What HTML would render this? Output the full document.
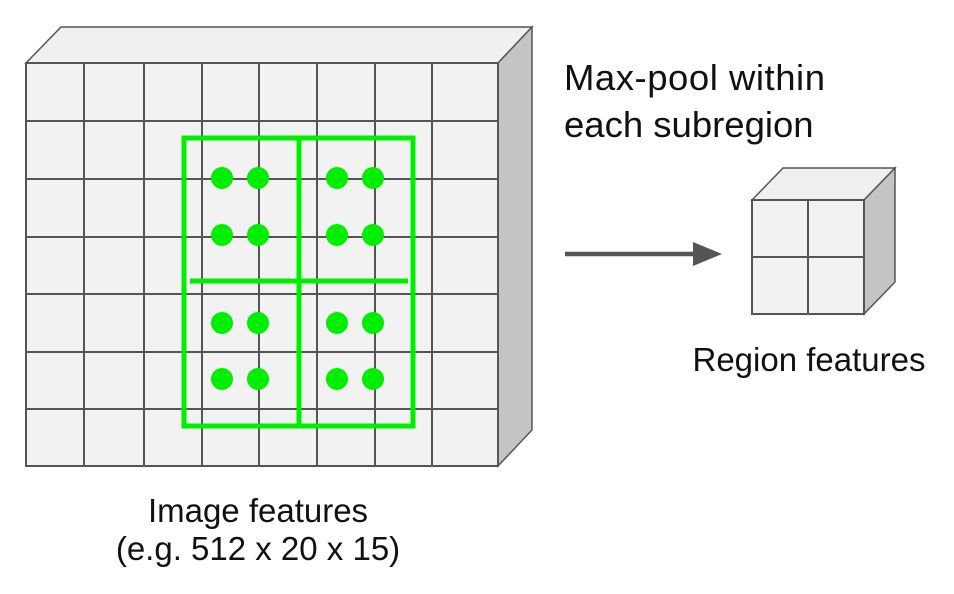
<!DOCTYPE html>
<html><head><style>
body{margin:0;background:#fff;}
svg text{font-family:"Liberation Sans",sans-serif;fill:#111;}
</style></head><body>
<svg width="954" height="589" viewBox="0 0 954 589" xmlns="http://www.w3.org/2000/svg">
<polygon points="26,63 61,27 532,27 498,63" fill="#f0f0f0" stroke="#555" stroke-width="1.5"/>
<polygon points="498,63 532,27 532,430 498,466" fill="#c4c4c4" stroke="#555" stroke-width="1.5"/>
<rect x="26" y="63" width="472" height="403" fill="#f2f2f2" stroke="#555" stroke-width="2"/>
<g stroke="#555" stroke-width="2">
<line x1="84" y1="63" x2="84" y2="466"/><line x1="144" y1="63" x2="144" y2="466"/>
<line x1="202" y1="63" x2="202" y2="466"/><line x1="259" y1="63" x2="259" y2="466"/>
<line x1="317" y1="63" x2="317" y2="466"/><line x1="375" y1="63" x2="375" y2="466"/>
<line x1="432" y1="63" x2="432" y2="466"/>
<line x1="26" y1="121" x2="498" y2="121"/><line x1="26" y1="179" x2="498" y2="179"/>
<line x1="26" y1="237" x2="498" y2="237"/><line x1="26" y1="294" x2="498" y2="294"/>
<line x1="26" y1="352" x2="498" y2="352"/><line x1="26" y1="409" x2="498" y2="409"/>
</g>
<g stroke="#00ee00" stroke-width="5" fill="none">
<rect x="184" y="138" width="229" height="288"/>
<line x1="299" y1="138" x2="299" y2="426"/>
<line x1="190" y1="281" x2="408" y2="281"/>
</g>
<g fill="#00ee00">
<circle cx="222" cy="178" r="11"/><circle cx="258" cy="178" r="11"/><circle cx="337" cy="178" r="11"/><circle cx="373" cy="178" r="11"/>
<circle cx="222" cy="235" r="11"/><circle cx="258" cy="235" r="11"/><circle cx="337" cy="235" r="11"/><circle cx="373" cy="235" r="11"/>
<circle cx="222" cy="323" r="11"/><circle cx="258" cy="323" r="11"/><circle cx="337" cy="323" r="11"/><circle cx="373" cy="323" r="11"/>
<circle cx="222" cy="379" r="11"/><circle cx="258" cy="379" r="11"/><circle cx="337" cy="379" r="11"/><circle cx="373" cy="379" r="11"/>
</g>
<line x1="565" y1="254" x2="697" y2="254" stroke="#555" stroke-width="4.5"/>
<polygon points="693,242 722,254 693,266" fill="#555"/>
<polygon points="752,200 783,168 895,168 864,200" fill="#f0f0f0" stroke="#555" stroke-width="1.5"/>
<polygon points="864,200 895,168 895,282 864,314" fill="#c4c4c4" stroke="#555" stroke-width="1.5"/>
<rect x="752" y="200" width="112" height="114" fill="#f2f2f2" stroke="#555" stroke-width="2"/>
<line x1="808" y1="200" x2="808" y2="314" stroke="#555" stroke-width="2"/>
<line x1="752" y1="257" x2="864" y2="257" stroke="#555" stroke-width="2"/>
<text x="564" y="90" font-size="36.5" textLength="261">Max-pool within</text>
<text x="564" y="137" font-size="36.5">each subregion</text>
<text x="809" y="371" font-size="33" text-anchor="middle">Region features</text>
<text x="258" y="522" font-size="33" text-anchor="middle">Image features</text>
<text x="258" y="560" font-size="33" text-anchor="middle">(e.g. 512 x 20 x 15)</text>
</svg>
</body></html>
